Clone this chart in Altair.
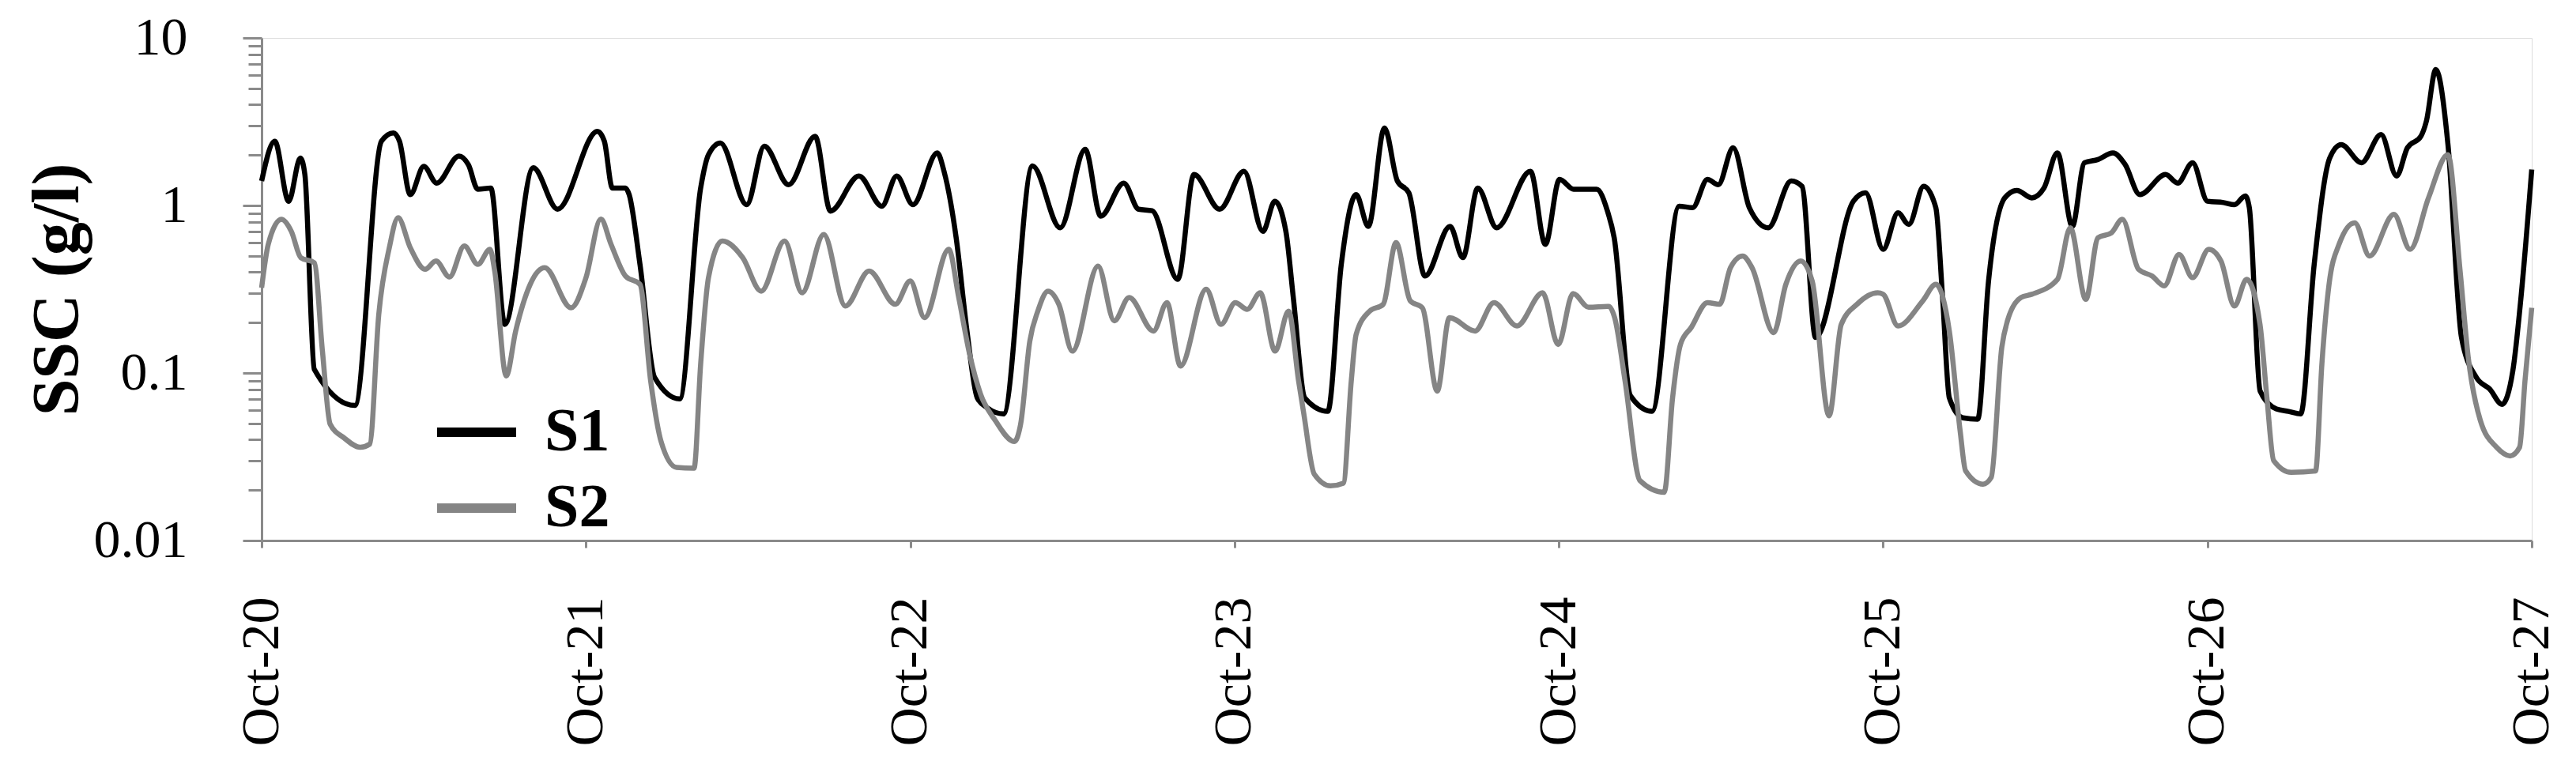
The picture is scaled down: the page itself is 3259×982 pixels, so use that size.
import altair as alt
import pandas as pd

# Hours since Oct-20 00:00 and SSC values (g/l)
S1_HOURS = [0.0, 0.97, 2.0, 2.87, 3.2, 3.9, 6.9, 8.87, 9.75, 10.2, 11.0, 12.0, 12.96, 14.6, 15.3, 16.0, 16.96, 18.0, 20.1, 21.9,
            24.85, 25.36, 25.96, 26.93, 27.2, 28.0, 29.08, 30.93, 32.49, 33.07, 33.95, 35.9, 37.2, 39.0, 40.96, 42.1, 44.2, 45.9, 47.0,
            48.2, 50.0, 50.5, 51.4, 52.2, 52.96, 53.7, 54.9, 57.05, 59.1, 60.95, 62.1, 63.8, 64.9, 65.9, 67.8, 69.0, 70.9,
            72.7, 74.1, 74.98, 75.8, 76.35, 77.2, 78.9, 79.9, 81.0, 81.9, 83.1, 84.05, 84.9, 86.1, 87.95, 88.9, 90.0, 91.4, 93.9, 95.0,
            96.05, 97.1, 98.8, 99.6, 100.1, 101.3, 102.9, 104.9, 105.9, 107.0, 107.8, 108.9, 110.1, 111.5, 113.2, 114.0, 115.0, 117.8, 118.7,
            120.0, 121.1, 121.9, 123.0, 123.9, 124.4, 124.9, 125.9, 127.0, 127.8, 129.0, 129.9, 131.0, 131.9, 132.9, 134.0, 134.9, 135.9,
            137.0, 137.9, 139.0, 140.9, 141.8, 142.9,
            144.0, 145.2, 146.0, 146.8, 147.1, 147.9, 149.1, 150.0, 150.9, 151.9, 153.05, 153.9, 155.4, 156.85, 158.0, 158.8, 159.8,
            160.2, 160.9, 161.8, 162.8, 163.9, 164.9, 165.8, 166.6, 167.2, 168.0]
S1_VALUES = [1.40, 2.42, 1.06, 1.92, 1.53, 0.105, 0.064, 2.42, 2.71, 2.42, 1.16, 1.71, 1.36, 1.97, 1.75, 1.25, 1.27, 0.195, 1.68, 0.95,
             2.77, 2.42, 1.27, 1.27, 1.16, 0.445, 0.094, 0.070, 1.27, 2.01, 2.36, 1.01, 2.26, 1.33, 2.59, 0.925, 1.50, 0.99, 1.50,
             1.01, 2.06, 1.60, 0.641, 0.178, 0.071, 0.062, 0.057, 1.72, 0.736, 2.16, 0.864, 1.36, 0.95, 0.93, 0.362, 1.53, 0.95,
             1.60, 0.70, 1.06, 0.70, 0.282, 0.071, 0.059, 0.445, 1.16, 0.75, 2.90, 1.40, 1.19, 0.379, 0.75, 0.488, 1.27, 0.736, 1.60, 0.586,
             1.43, 1.25, 1.25, 0.925, 0.64, 0.073, 0.059, 0.99, 0.97, 1.43, 1.33, 2.21, 0.97, 0.736, 1.40, 1.30, 0.163, 1.06, 1.19,
             0.547, 0.904, 0.77, 1.30, 0.97, 0.282, 0.071, 0.054, 0.053, 0.354, 1.11, 1.23, 1.11, 1.27, 2.06, 0.75, 1.80, 1.88,
             2.06, 1.76, 1.16, 1.53, 1.36, 1.80,
             1.06, 1.04, 1.01, 1.14, 0.97, 0.078, 0.061, 0.059, 0.057, 0.445, 1.92, 2.31, 1.80, 2.65, 1.50, 2.21, 2.59,
             3.18, 6.47, 2.31, 0.163, 0.094, 0.080, 0.065, 0.103, 0.28, 1.64]

S2_HOURS = [0.0, 0.49, 1.46, 2.2, 2.9, 3.9, 4.5, 5.07, 6.1, 7.3, 8.0, 8.67, 9.45, 10.1, 11.0, 12.1, 12.9, 13.9, 15.0, 16.0, 16.9,
            17.25, 18.1, 18.8, 20.95, 22.9, 24.0,
            25.1, 25.86, 26.93, 28.0, 28.79, 29.56, 30.7, 32.0, 32.49, 33.07, 34.1, 35.6, 36.97, 38.7, 40.0, 41.6, 43.2, 44.96, 46.9,
            48.0, 49.06, 50.85, 51.59, 52.4, 53.2, 54.3, 55.7, 56.17, 56.85, 57.44, 58.2, 59.0, 60.0, 61.9, 63.1, 64.2, 66.0, 67.0,
            68.0, 69.9, 71.0,
            72.06, 72.94, 73.9, 75.0, 76.0, 76.74, 77.13, 77.9, 79.1, 80.05, 80.64, 81.0, 82.0, 83.0, 83.95, 85.0, 85.9, 87.0, 87.9,
            89.8, 91.2, 92.9, 94.8,
            95.95, 97.05, 98.2, 99.7, 100.13, 100.9, 102.0, 103.8, 104.42, 105.0, 105.8, 107.0, 107.9, 108.7, 109.6, 110.3, 111.9,
            112.8, 113.9, 114.75, 116.0, 116.9, 118.06, 119.6,
            120.0, 121.1, 122.94, 123.9, 124.9, 125.7, 126.1, 127.4, 128.0, 128.78, 129.2, 130.2, 131.0, 132.9, 133.85, 135.0, 135.9,
            136.9, 137.7, 138.9, 139.9, 140.8, 141.9, 142.9,
            144.1, 145.0, 146.0, 146.9, 147.89, 148.4, 148.9, 150.2, 152.0, 152.47, 153.0, 153.74, 154.9, 156.0, 157.8, 159.0,
            160.36, 161.8, 162.7, 163.3, 164.2, 165.4, 166.4, 167.1, 167.5, 168.0]
S2_VALUES = [0.323, 0.586, 0.826, 0.70, 0.488, 0.455, 0.135, 0.0495, 0.041, 0.036, 0.0376, 0.224, 0.56, 0.844, 0.56, 0.416, 0.466,
             0.374, 0.573, 0.445, 0.547, 0.406, 0.096, 0.178, 0.425, 0.245, 0.37,
             0.83, 0.586, 0.379, 0.338, 0.0897, 0.039, 0.0273, 0.027, 0.113, 0.371, 0.613, 0.488, 0.308, 0.613, 0.301, 0.671, 0.251,
             0.406, 0.257,
             0.354, 0.214, 0.547, 0.282, 0.129, 0.075, 0.052, 0.039, 0.0495, 0.155, 0.234, 0.308, 0.257, 0.135, 0.435, 0.205, 0.282,
             0.178, 0.263, 0.110, 0.316, 0.195,
             0.263, 0.24, 0.301, 0.135, 0.234, 0.0897, 0.0568, 0.0249, 0.0212, 0.022, 0.0897, 0.170, 0.234, 0.257, 0.60, 0.27, 0.245,
             0.078, 0.214, 0.178, 0.263, 0.191, 0.301,
             0.148, 0.298, 0.247, 0.25, 0.214, 0.0897, 0.0228, 0.0194, 0.0714, 0.148, 0.187, 0.263, 0.257, 0.425, 0.499, 0.425, 0.174,
             0.338, 0.466, 0.354, 0.0555, 0.195, 0.257, 0.301,
             0.295, 0.191, 0.27, 0.338, 0.178, 0.045, 0.0261, 0.0217, 0.0238, 0.142, 0.205, 0.282, 0.295, 0.362, 0.736, 0.275, 0.641,
             0.687, 0.826, 0.416, 0.379, 0.331, 0.51, 0.371,
             0.547, 0.466, 0.251, 0.362, 0.195, 0.0714, 0.030, 0.0255, 0.026, 0.113, 0.338, 0.586, 0.788, 0.499, 0.884, 0.547,
             1.11, 2.01, 0.406, 0.124, 0.052, 0.036, 0.032, 0.036, 0.0897, 0.245]

SERIES = ["S1", "S2"]
COLORS = ["#000000", "#858585"]
DAY_TICKS = [0, 24, 48, 72, 96, 120, 144, 168]
DAY_LABELS = ["Oct-20", "Oct-21", "Oct-22", "Oct-23", "Oct-24", "Oct-25", "Oct-26", "Oct-27"]
Y_MAJOR = [0.01, 0.1, 1, 10]
Y_MAJOR_LABELS = ["0.01", "0.1", "1", "10"]
Y_MINOR = [0.02, 0.03, 0.04, 0.05, 0.06, 0.07, 0.08, 0.09,
           0.2, 0.3, 0.4, 0.5, 0.6, 0.7, 0.8, 0.9,
           2, 3, 4, 5, 6, 7, 8, 9]

df = pd.concat([
    pd.DataFrame({"t": S1_HOURS, "ssc": S1_VALUES, "series": "S1"}),
    pd.DataFrame({"t": S2_HOURS, "ssc": S2_VALUES, "series": "S2"}),
], ignore_index=True)

FONT = "Liberation Serif"
GRAY = "#8a8a8a"

major_arr = "[" + ",".join(str(v) for v in Y_MAJOR) + "]"
major_lab = "[" + ",".join("'" + s + "'" for s in Y_MAJOR_LABELS) + "]"
day_lab = "[" + ",".join("'" + s + "'" for s in DAY_LABELS) + "]"
is_major = f"indexof({major_arr}, datum.value) >= 0"

chart = alt.Chart(df).mark_line(strokeWidth=6.5, interpolate="monotone").encode(
    x=alt.X("t:Q",
            scale=alt.Scale(domain=[0, 168], nice=False, zero=False),
            axis=alt.Axis(values=DAY_TICKS, labelExpr=f"{day_lab}[round(datum.value/24)]",
                          labelAngle=270, labelFontSize=68, labelFont=FONT, labelColor="black",
                          labelLimit=1000, labelOverlap=False,
                          labelPadding=62, labelFlush=False, tickSize=9, tickWidth=3, tickColor=GRAY,
                          domainColor=GRAY, domainWidth=3, grid=False, title=None)),
    y=alt.Y("ssc:Q",
            scale=alt.Scale(type="log", domain=[0.01, 10], nice=False),
            axis=alt.Axis(values=Y_MAJOR + Y_MINOR,
                          labelExpr=f"{is_major} ? {major_lab}[indexof({major_arr}, datum.value)] : ''",
                          labelFontSize=68, labelFont=FONT, labelColor="black", labelPadding=70,
                          labelBaseline="middle", labelLimit=1000, labelOverlap=False,
                          tickSize={"condition": {"test": is_major, "value": 24}, "value": 17},
                          tickWidth=3, tickColor=GRAY, domainColor=GRAY, domainWidth=3, grid=False,
                          title="SSC (g/l)", titleFontSize=84, titleFont=FONT, titleFontWeight="bold",
                          titleColor="black", titleAngle=270, titleX=-233, titleY=318,
                          titleAlign="center", titleBaseline="alphabetic")),
    color=alt.Color("series:N",
                    scale=alt.Scale(domain=SERIES, range=COLORS),
                    legend=alt.Legend(orient="none", legendX=216, legendY=443, title=None,
                                      symbolType="stroke", symbolSize=10000, symbolStrokeWidth=12,
                                      labelFontSize=78, labelFont=FONT, labelFontWeight="bold",
                                      labelColor="black", labelOffset=30, rowPadding=1, padding=0)),
    order=alt.Order("series:N", sort="ascending"),
).properties(
    width=2872, height=636,
    padding={"left": 323, "top": 40, "right": 40, "bottom": 280},
    autosize=alt.AutoSizeParams(type="none"),
).configure_view(
    stroke=GRAY, strokeWidth=3
).configure(background="white")

chart.save("out.html", embed_options={"renderer": "svg", "actions": False})
